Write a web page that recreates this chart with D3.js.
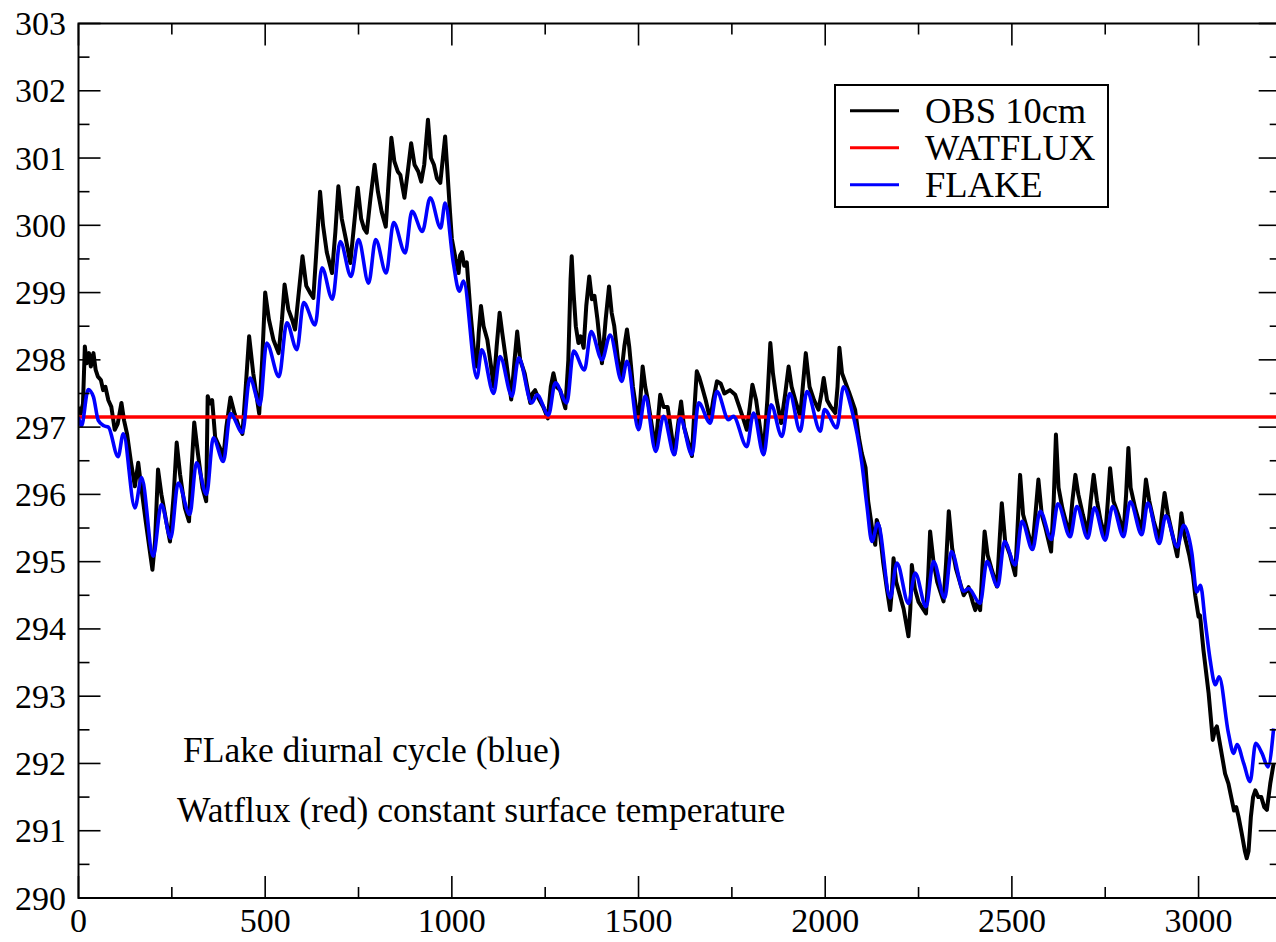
<!DOCTYPE html>
<html>
<head>
<meta charset="utf-8">
<script src="https://cdn.jsdelivr.net/npm/d3@7"></script>
<style>
  html, body { margin: 0; padding: 0; background: #fff; }
  svg { display: block; font-family: "Liberation Serif", "Times New Roman", serif; }
</style>
</head>
<body>
<svg id="chart" width="1276" height="942"></svg>
<script>
// ---- data ----
const xTicks = [0, 500, 1000, 1500, 2000, 2500, 3000];
const yTicks = [290, 291, 292, 293, 294, 295, 296, 297, 298, 299, 300, 301, 302, 303];

const legendLabels = ["OBS 10cm", "WATFLUX", "FLAKE"];
const legendColors = ["#000000", "#ff0000", "#0000ff"];

const annotations = ["FLake diurnal cycle (blue)", "Watflux (red) constant surface temperature"];

const watfluxTime = [0, 3220];
const watfluxTemp = [297.15, 297.15];

const flakeTime = [0, 8, 26, 40, 53, 68, 80, 106, 120, 151, 169, 200, 222, 247, 267, 298, 316, 343, 361, 388, 407, 439, 459, 486, 504, 537, 558, 585, 603, 634, 652, 680, 701, 730, 750, 777, 796, 824, 844, 875, 893, 921, 942, 970, 982, 1004, 1020, 1031, 1067, 1080, 1112, 1129, 1161, 1179, 1214, 1228, 1259, 1277, 1308, 1326, 1355, 1373, 1402, 1424, 1455, 1469, 1500, 1518, 1546, 1567, 1596, 1612, 1643, 1661, 1692, 1710, 1741, 1754, 1790, 1808, 1835, 1855, 1884, 1905, 1933, 1951, 1987, 1998, 2031, 2049, 2071, 2098, 2112, 2125, 2141, 2174, 2192, 2223, 2241, 2270, 2290, 2320, 2338, 2371, 2384, 2415, 2433, 2462, 2480, 2509, 2527, 2555, 2576, 2606, 2623, 2656, 2674, 2703, 2721, 2750, 2770, 2799, 2817, 2848, 2864, 2895, 2912, 2943, 2960, 2982, 2995, 3005, 3018, 3031, 3045, 3055, 3080, 3094, 3103, 3121, 3138, 3153, 3170, 3186, 3201];
const flakeTemp = [297.15, 297.02, 297.56, 297.45, 297.1, 297.02, 297.0, 296.56, 296.9, 295.8, 296.25, 295.08, 295.85, 295.35, 296.17, 295.7, 296.47, 296.0, 296.84, 296.49, 297.2, 296.92, 297.73, 297.33, 298.25, 297.75, 298.55, 298.15, 298.85, 298.52, 299.37, 298.9, 299.76, 299.24, 299.79, 299.14, 299.79, 299.29, 300.04, 299.59, 300.21, 299.91, 300.41, 299.96, 300.33, 299.44, 299.02, 299.17, 297.73, 298.15, 297.5, 298.05, 297.46, 298.03, 297.36, 297.48, 297.18, 297.66, 297.36, 298.13, 297.85, 298.42, 298.0, 298.37, 297.68, 297.98, 296.96, 297.46, 296.64, 297.16, 296.59, 297.13, 296.59, 297.36, 297.06, 297.53, 297.11, 297.16, 296.71, 297.21, 296.59, 297.33, 296.86, 297.5, 296.94, 297.53, 296.94, 297.26, 296.99, 297.6, 297.26, 296.47, 295.82, 295.3, 295.57, 294.46, 294.98, 294.38, 294.83, 294.33, 295.0, 294.46, 295.15, 294.56, 294.6, 294.38, 295.0, 294.63, 295.3, 294.95, 295.6, 295.18, 295.75, 295.33, 295.86, 295.37, 295.82, 295.35, 295.8, 295.32, 295.82, 295.37, 295.89, 295.4, 295.87, 295.27, 295.68, 295.22, 295.54, 295.13, 294.55, 294.65, 294.1, 293.54, 293.17, 293.29, 292.45, 292.15, 292.28, 292.0, 291.73, 292.3, 292.15, 291.95, 292.52];

const obsTime = [0, 6, 12, 17, 22, 28, 33, 40, 46, 52, 60, 66, 72, 80, 88, 97, 105, 115, 122, 130, 140, 151, 160, 166, 180, 190, 198, 205, 213, 222, 235, 245, 255, 263, 272, 285, 296, 303, 310, 320, 332, 342, 346, 352, 358, 366, 378, 388, 396, 407, 418, 430, 439, 448, 457, 468, 484, 492, 500, 510, 522, 536, 545, 552, 562, 572, 580, 590, 600, 610, 620, 629, 637, 647, 655, 665, 679, 688, 696, 705, 716, 728, 738, 748, 757, 765, 772, 782, 793, 802, 812, 823, 830, 838, 846, 855, 862, 873, 882, 891, 900, 910, 918, 926, 936, 944, 952, 960, 969, 976, 982, 987, 995, 1000, 1010, 1018, 1022, 1027, 1033, 1040, 1050, 1060, 1067, 1072, 1078, 1085, 1095, 1105, 1112, 1120, 1128, 1135, 1145, 1159, 1168, 1175, 1183, 1195, 1210, 1216, 1223, 1230, 1245, 1257, 1265, 1272, 1280, 1290, 1304, 1312, 1318, 1321, 1326, 1332, 1339, 1345, 1353, 1360, 1368, 1375, 1382, 1390, 1402, 1412, 1421, 1428, 1435, 1445, 1453, 1462, 1469, 1475, 1485, 1500, 1506, 1511, 1518, 1525, 1545, 1552, 1558, 1567, 1578, 1596, 1605, 1614, 1622, 1643, 1650, 1656, 1662, 1670, 1680, 1692, 1700, 1710, 1720, 1730, 1745, 1759, 1770, 1782, 1790, 1798, 1805, 1815, 1835, 1845, 1853, 1860, 1870, 1882, 1893, 1902, 1910, 1920, 1933, 1940, 1948, 1958, 1970, 1982, 1990, 1996, 2005, 2015, 2027, 2033, 2038, 2045, 2055, 2065, 2080, 2090, 2098, 2108, 2115, 2121, 2128, 2134, 2138, 2145, 2155, 2165, 2174, 2179, 2183, 2190, 2200, 2210, 2223, 2228, 2232, 2240, 2250, 2270, 2276, 2281, 2290, 2300, 2317, 2324, 2331, 2340, 2350, 2371, 2384, 2395, 2402, 2408, 2415, 2421, 2427, 2435, 2445, 2460, 2467, 2473, 2482, 2495, 2509, 2516, 2522, 2530, 2540, 2555, 2563, 2571, 2580, 2590, 2605, 2612, 2618, 2625, 2635, 2654, 2662, 2670, 2678, 2690, 2703, 2711, 2719, 2728, 2738, 2750, 2757, 2763, 2772, 2785, 2799, 2806, 2812, 2818, 2830, 2848, 2854, 2859, 2868, 2880, 2895, 2902, 2909, 2918, 2930, 2943, 2949, 2954, 2962, 2975, 2985, 2991, 3000, 3004, 3013, 3027, 3038, 3044, 3049, 3057, 3071, 3080, 3089, 3095, 3101, 3107, 3116, 3124, 3129, 3134, 3140, 3146, 3152, 3160, 3168, 3176, 3183, 3192, 3201];
const obsTemp = [297.3, 297.2, 297.35, 298.2, 297.95, 298.1, 297.9, 298.1, 297.85, 297.75, 297.7, 297.55, 297.6, 297.4, 297.3, 296.96, 297.05, 297.36, 297.1, 296.9, 296.5, 296.12, 296.47, 296.2, 295.6, 295.2, 294.88, 295.3, 296.37, 296.0, 295.6, 295.3, 296.0, 296.77, 296.3, 295.8, 295.6, 296.4, 297.07, 296.6, 296.1, 295.9, 297.46, 297.35, 297.4, 296.85, 296.7, 296.55, 297.0, 297.44, 297.2, 297.0, 296.9, 297.6, 298.35, 297.8, 297.2, 298.0, 299.0, 298.6, 298.3, 298.1, 298.6, 299.12, 298.75, 298.6, 298.45, 299.0, 299.54, 299.1, 299.0, 298.92, 299.6, 300.5, 300.0, 299.6, 299.29, 299.9, 300.58, 300.1, 299.8, 299.44, 300.0, 300.56, 300.1, 299.95, 299.89, 300.4, 300.9, 300.5, 300.2, 299.98, 300.6, 301.3, 300.95, 300.8, 300.75, 300.41, 300.8, 301.22, 300.9, 300.8, 300.65, 300.9, 301.57, 301.0, 300.9, 300.7, 300.63, 301.0, 301.32, 300.9, 300.2, 299.8, 299.5, 299.29, 299.55, 299.6, 299.4, 299.45, 298.7, 298.1, 297.9, 298.4, 298.8, 298.5, 298.3, 297.9, 297.6, 298.2, 298.7, 298.4, 298.0, 297.41, 298.0, 298.42, 298.0, 297.8, 297.36, 297.5, 297.55, 297.45, 297.3, 297.13, 297.6, 297.8, 297.6, 297.55, 297.28, 298.0, 299.2, 299.54, 299.0, 298.5, 298.25, 298.35, 298.18, 298.8, 299.24, 298.9, 298.95, 298.6, 297.95, 298.6, 299.09, 298.7, 298.5, 298.0, 297.75, 298.2, 298.45, 298.2, 297.6, 297.04, 297.5, 297.9, 297.6, 297.4, 296.69, 297.1, 297.48, 297.3, 297.3, 296.6, 297.0, 297.38, 297.0, 296.57, 297.3, 297.83, 297.75, 297.6, 297.4, 297.11, 297.4, 297.68, 297.65, 297.5, 297.55, 297.48, 297.3, 297.1, 296.96, 297.3, 297.63, 297.4, 296.61, 297.4, 298.25, 297.8, 297.4, 297.06, 297.5, 297.9, 297.6, 297.4, 297.16, 297.6, 298.1, 297.6, 297.4, 297.26, 297.5, 297.73, 297.4, 297.3, 297.21, 297.6, 298.18, 297.8, 297.65, 297.5, 297.26, 296.85, 296.61, 296.4, 295.9, 295.67, 295.4, 295.25, 295.62, 295.5, 295.0, 294.6, 294.28, 294.6, 295.05, 294.7, 294.5, 294.3, 293.89, 294.3, 294.95, 294.6, 294.4, 294.23, 294.8, 295.45, 295.0, 294.7, 294.41, 295.0, 295.75, 295.2, 294.9, 294.5, 294.62, 294.4, 294.28, 294.4, 294.28, 294.9, 295.45, 295.1, 294.9, 294.63, 295.3, 295.87, 295.3, 295.1, 294.8, 295.6, 296.29, 295.7, 295.5, 295.2, 295.7, 296.22, 295.7, 295.5, 295.15, 295.9, 296.89, 296.1, 295.8, 295.4, 295.9, 296.29, 296.0, 295.7, 295.42, 295.9, 296.29, 295.9, 295.6, 295.37, 295.9, 296.39, 295.9, 295.7, 295.42, 296.0, 296.69, 296.1, 295.8, 295.44, 295.9, 296.22, 295.9, 295.6, 295.32, 295.7, 296.02, 295.7, 295.4, 295.08, 295.4, 295.72, 295.4, 295.1, 294.8, 294.5, 294.18, 294.2, 293.69, 293.04, 292.35, 292.5, 292.55, 292.3, 291.85, 291.7, 291.46, 291.3, 291.35, 291.21, 290.95, 290.7, 290.59, 290.7, 291.2, 291.5, 291.6, 291.5, 291.5, 291.35, 291.31, 291.7, 292.0];

// ---- layout ----
const svg = d3.select("#chart");
const pLeft = 78.5, pRight = 1280.7, pTop = 23.5, pBottom = 898;
const x = d3.scaleLinear().domain([0, 3220]).range([pLeft, pRight]);
const y = d3.scaleLinear().domain([290, 303]).range([pBottom, pTop]);

const clip = svg.append("defs").append("clipPath").attr("id", "plotclip");
clip.append("rect").attr("x", pLeft).attr("y", pTop).attr("width", pRight - pLeft).attr("height", pBottom - pTop);

const plot = svg.append("g").attr("clip-path", "url(#plotclip)");

const toPts = (ts, vs) => ts.map((t, i) => [t, vs[i]]);

const lineLin = d3.line().x(d => x(d[0])).y(d => y(d[1]));
const lineSmooth = d3.line().x(d => x(d[0])).y(d => y(d[1])).curve(d3.curveMonotoneX);

plot.append("path").datum(toPts(obsTime, obsTemp))
  .attr("d", lineLin).attr("fill", "none").attr("stroke", legendColors[0])
  .attr("stroke-width", 4).attr("stroke-linejoin", "round");
plot.append("path").datum(toPts(watfluxTime, watfluxTemp))
  .attr("d", lineLin).attr("fill", "none").attr("stroke", legendColors[1])
  .attr("stroke-width", 3.4);
plot.append("path").datum(toPts(flakeTime, flakeTemp))
  .attr("d", lineSmooth).attr("fill", "none").attr("stroke", legendColors[2])
  .attr("stroke-width", 3.6).attr("stroke-linejoin", "round");

// ---- frame & ticks ----
const fr = svg.append("g");
fr.append("rect").attr("x", pLeft).attr("y", pTop).attr("width", pRight - pLeft).attr("height", pBottom - pTop)
  .attr("fill", "none").attr("stroke", "#000").attr("stroke-width", 2);

const major = 22, minor = 11;
const xMinor = d3.range(250, 3220, 500);
const yMinor = d3.range(290.5, 303, 1);

const tickG = fr.append("g").attr("stroke", "#000").attr("stroke-width", 1.6);
xTicks.forEach(t => {
  tickG.append("line").attr("x1", x(t)).attr("x2", x(t)).attr("y1", pBottom).attr("y2", pBottom - major);
  tickG.append("line").attr("x1", x(t)).attr("x2", x(t)).attr("y1", pTop).attr("y2", pTop + major);
});
xMinor.forEach(t => {
  tickG.append("line").attr("x1", x(t)).attr("x2", x(t)).attr("y1", pBottom).attr("y2", pBottom - minor);
  tickG.append("line").attr("x1", x(t)).attr("x2", x(t)).attr("y1", pTop).attr("y2", pTop + minor);
});
yTicks.forEach(v => {
  tickG.append("line").attr("x1", pLeft).attr("x2", pLeft + major).attr("y1", y(v)).attr("y2", y(v));
  tickG.append("line").attr("x1", pRight).attr("x2", pRight - major).attr("y1", y(v)).attr("y2", y(v));
});
yMinor.forEach(v => {
  tickG.append("line").attr("x1", pLeft).attr("x2", pLeft + minor).attr("y1", y(v)).attr("y2", y(v));
  tickG.append("line").attr("x1", pRight).attr("x2", pRight - minor).attr("y1", y(v)).attr("y2", y(v));
});

const tickFont = 34, textFont = 35.5;
fr.append("g").selectAll("text").data(xTicks).join("text")
  .attr("x", d => x(d)).attr("y", 932).attr("text-anchor", "middle")
  .attr("font-size", tickFont).text(d => d);
fr.append("g").selectAll("text").data(yTicks).join("text")
  .attr("x", 66).attr("y", d => y(d) + 11.5).attr("text-anchor", "end")
  .attr("font-size", tickFont).text(d => d);

// ---- legend ----
const lg = svg.append("g");
lg.append("rect").attr("x", 835).attr("y", 85).attr("width", 273).attr("height", 122)
  .attr("fill", "#fff").attr("stroke", "#000").attr("stroke-width", 2);
legendLabels.forEach((lab, i) => {
  const cy = 110.7 + i * 37;
  lg.append("line").attr("x1", 850).attr("x2", 899).attr("y1", cy).attr("y2", cy)
    .attr("stroke", legendColors[i]).attr("stroke-width", 3);
  lg.append("text").attr("x", 925).attr("y", cy + 12).attr("font-size", 36.5).text(lab);
});

// ---- annotations ----
svg.append("text").attr("x", 183).attr("y", 762).attr("font-size", textFont).text(annotations[0]);
svg.append("text").attr("x", 177).attr("y", 822).attr("font-size", textFont).text(annotations[1]);
</script>
</body>
</html>
